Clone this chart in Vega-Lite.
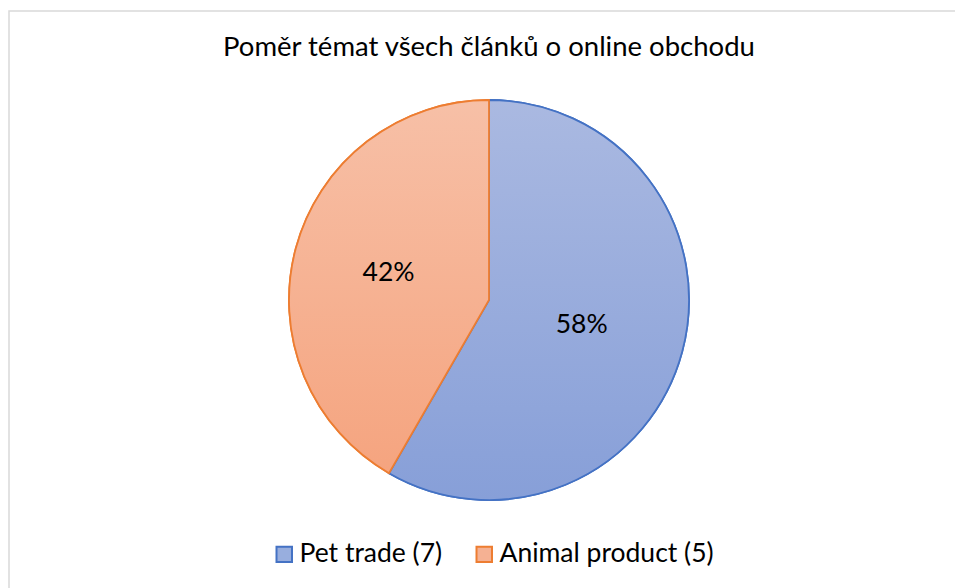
{
  "$schema": "https://vega.github.io/schema/vega-lite/v6.json",
  "autosize": "none",
  "width": 960,
  "height": 578,
  "padding": {"left": 9, "top": 11, "right": 0, "bottom": 0},
  "background": "white",
  "view": {"stroke": "#D9D9D9", "strokeWidth": 1.5},
  "config": {
    "view": {"stroke": "#D9D9D9", "strokeWidth": 1.5},
    "font": "Lato"
  },
  "title": {
    "text": "Poměr témat všech článků o online obchodu",
    "font": "Lato",
    "fontSize": 27.5,
    "fontWeight": "normal",
    "color": "#000000",
    "anchor": "middle",
    "baseline": "alphabetic",
    "offset": -72
  },
  "data": {
    "values": [
      {"topic": "Pet trade (7)", "count": 7, "pct": "58%"},
      {"topic": "Animal product (5)", "count": 5, "pct": "42%"}
    ]
  },
  "encoding": {
    "theta": {"field": "count", "type": "quantitative", "stack": true},
    "order": {"field": "count", "type": "quantitative", "sort": "descending"}
  },
  "layer": [
    {
      "mark": {"type": "arc", "outerRadius": 200, "strokeWidth": 1.8},
      "encoding": {
        "fill": {
          "field": "topic",
          "type": "nominal",
          "scale": {
            "domain": ["Pet trade (7)", "Animal product (5)"],
            "range": ["#98AEDE", "#F5B193"]
          },
          "legend": {
            "title": null,
            "orient": "none",
            "legendX": 262,
            "legendY": 530,
            "direction": "horizontal",
            "symbolType": "square",
            "symbolSize": 240,
            "symbolStrokeWidth": 2,
            "symbolOpacity": 1,
            "labelFontSize": 26.5,
            "labelFont": "Lato",
            "labelColor": "#000000",
            "columnPadding": 28,
            "labelOffset": 2,
            "labelLimit": 400
          }
        },
        "stroke": {
          "field": "topic",
          "type": "nominal",
          "scale": {
            "domain": ["Pet trade (7)", "Animal product (5)"],
            "range": ["#4472C4", "#ED7D31"]
          },
          "legend": {
            "title": null,
            "orient": "none",
            "legendX": 262,
            "legendY": 530,
            "direction": "horizontal",
            "symbolType": "square",
            "symbolSize": 240,
            "symbolStrokeWidth": 2,
            "symbolOpacity": 1,
            "labelFontSize": 26.5,
            "labelFont": "Lato",
            "labelColor": "#000000",
            "columnPadding": 28,
            "labelOffset": 2,
            "labelLimit": 400
          }
        }
      }
    },
    {
      "mark": {"type": "arc", "outerRadius": 200, "strokeWidth": 1.8},
      "encoding": {
        "fill": {
          "condition": {
            "test": "datum.count == 7",
            "value": {"gradient": "linear", "x1": 0, "y1": 0, "x2": 0, "y2": 1, "stops": [{"offset": 0, "color": "#AAB9E1"}, {"offset": 1, "color": "#879FD8"}]}
          },
          "value": {"gradient": "linear", "x1": 0, "y1": 0, "x2": 0, "y2": 1, "stops": [{"offset": 0, "color": "#F7C0A7"}, {"offset": 1, "color": "#F5A47F"}]}
        },
        "stroke": {
          "condition": {"test": "datum.count == 7", "value": "#4472C4"},
          "value": "#ED7D31"
        }
      }
    },
    {
      "mark": {"type": "text", "radius": 96, "fontSize": 26.5, "font": "Lato", "color": "#000000"},
      "encoding": {
        "text": {"condition": {"test": "datum.count == 7", "field": "pct"}, "value": ""}
      }
    },
    {
      "mark": {"type": "text", "radius": 104, "fontSize": 26.5, "font": "Lato", "color": "#000000"},
      "encoding": {
        "text": {"condition": {"test": "datum.count == 5", "field": "pct"}, "value": ""}
      }
    }
  ]
}
